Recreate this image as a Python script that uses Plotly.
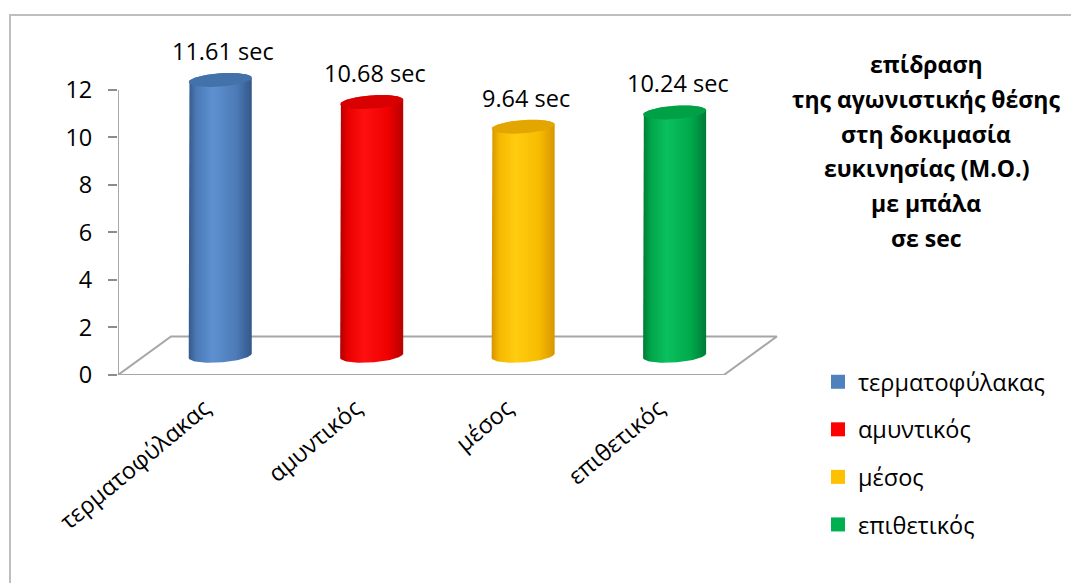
import numpy as np
import plotly.graph_objects as go

# ---- data -------------------------------------------------------------
positions = ["τερματοφύλακας", "αμυντικός", "μέσος", "επιθετικός"]
mean_times = [11.61, 10.68, 9.64, 10.24]
value_labels = ["11.61 sec", "10.68 sec", "9.64 sec", "10.24 sec"]
y_ticks = [0, 2, 4, 6, 8, 10, 12]
title_lines = [
    "επίδραση",
    "της αγωνιστικής θέσης",
    "στη δοκιμασία",
    "ευκινησίας (Μ.Ο.)",
    "με μπάλα",
    "σε sec",
]

# ---- styling ------------------------------------------------------------
FONT = "Open Sans"
TEXT_SIZE = 23.5
base_colors = ["#4F81BD", "#FF0000", "#FFC000", "#00B050"]
# side shading of each cylinder: dark edge -> highlight -> dark edge
body_scales = [
    [[0, "#36598A"], [0.12, "#4A79B5"], [0.38, "#5E90D0"], [0.75, "#4C7CB8"], [1, "#34578A"]],
    [[0, "#B00000"], [0.12, "#E80000"], [0.38, "#FF1010"], [0.75, "#F00000"], [1, "#B80000"]],
    [[0, "#D69400"], [0.12, "#F5B800"], [0.38, "#FFCC10"], [0.75, "#F7BC00"], [1, "#D89600"]],
    [[0, "#007A36"], [0.12, "#00A64A"], [0.38, "#0BC05E"], [0.75, "#00AA4C"], [1, "#007C38"]],
]
cap_colors = ["#4371AA", "#D80000", "#E3A600", "#00A047"]
AXIS_GREY = "#8C8C8C"
FLOOR_GREY = "#A6A6A6"

# figure geometry (pixels)
FIG_W, FIG_H = 1071, 583
M_L, M_R, M_T, M_B = 118, 279, 59, 208
PLOT_W = FIG_W - M_L - M_R
PLOT_H = FIG_H - M_T - M_B
X_RANGE = [0, 4.45]
Y_RANGE = [0, 13.3]

# pseudo-3D depth of the floor and cylinder shape (data units)
DEPTH_X, DEPTH_Y = 0.35, 1.62
RX, RY, TILT = 0.208, 0.28, 0.45


def paper_x(px):
    return (px - M_L) / PLOT_W


def paper_y(py):
    return (FIG_H - M_B - py) / PLOT_H


def cylinder(xc, base, top, n=60):
    """Outline of the visible body and the top cap of a cylinder."""
    t_up = np.linspace(np.pi, 0, n)
    t_dn = np.linspace(0, -np.pi, n)
    bx = np.concatenate([
        [xc - RX, xc - RX],
        xc + RX * np.cos(t_up),
        [xc + RX, xc + RX],
        xc + RX * np.cos(t_dn),
    ])
    by = np.concatenate([
        [base - TILT * RX, top - TILT * RX],
        top + TILT * RX * np.cos(t_up) + RY * np.sin(t_up),
        [top + TILT * RX, base + TILT * RX],
        base + TILT * RX * np.cos(t_dn) + RY * np.sin(t_dn),
    ])
    t = np.linspace(0, 2 * np.pi, 2 * n)
    cx = xc + RX * np.cos(t)
    cy = top + TILT * RX * np.cos(t) + RY * np.sin(t)
    return bx, by, cx, cy


fig = go.Figure()

# floor of the 3-D plot area
n_cat = len(positions)
fig.add_trace(go.Scatter(
    x=[0, n_cat, n_cat + DEPTH_X, DEPTH_X, 0],
    y=[0, 0, DEPTH_Y, DEPTH_Y, 0],
    mode="lines", line=dict(color=FLOOR_GREY, width=2),
    hoverinfo="skip", showlegend=False,
))

bar_centers = [i + 0.5 + DEPTH_X / 2 for i in range(n_cat)]
label_positions = [i + 0.57 for i in range(n_cat)]
base_level = DEPTH_Y / 2

for i, (name, val) in enumerate(zip(positions, mean_times)):
    xc = bar_centers[i]
    bx, by, cx, cy = cylinder(xc, base_level, val + base_level)
    fig.add_trace(go.Scatter(
        x=bx, y=by, fill="toself", mode="lines", line=dict(width=0),
        fillgradient=dict(type="horizontal", colorscale=body_scales[i],
                          start=xc - RX, stop=xc + RX),
        hoverinfo="skip", showlegend=False,
    ))
    fig.add_trace(go.Scatter(
        x=cx, y=cy, fill="toself", mode="lines", line=dict(width=0),
        fillcolor=cap_colors[i], hoverinfo="skip", showlegend=False,
    ))
    fig.add_annotation(
        x=xc, y=val + base_level, text=value_labels[i], showarrow=False,
        yanchor="middle", yshift=29, xshift=3,
        font=dict(family=FONT, size=TEXT_SIZE, color="#000000"),
    )

# legend entries
for name, col in zip(positions, base_colors):
    fig.add_trace(go.Scatter(
        x=[None], y=[None], mode="markers", name=name, legendgroup=name,
        marker=dict(symbol="square", size=14, color=col),
    ))

# y axis line and x-axis tick marks between categories
fig.add_shape(type="line", xref="x", yref="y", x0=0, x1=0, y0=0, y1=max(y_ticks),
              line=dict(color=AXIS_GREY, width=1.5))
for k in range(n_cat + 1):
    fig.add_shape(type="line", xref="x", yref="y", ysizemode="pixel", yanchor=0,
                  x0=k, x1=k, y0=0, y1=-10, line=dict(color=AXIS_GREY, width=1.5))

# chart-area frame
fig.add_shape(type="rect", xref="paper", yref="paper",
              x0=paper_x(10), x1=paper_x(1090), y0=paper_y(600), y1=paper_y(15),
              line=dict(color="#BEBEBE", width=2), fillcolor="rgba(0,0,0,0)", layer="below")

# multi-line bold title at the right
for j, line in enumerate(title_lines):
    fig.add_annotation(
        xref="paper", yref="paper", x=paper_x(926), y=paper_y(64 + 34.8 * j),
        text=f"<b>{line}</b>", showarrow=False, xanchor="center", yanchor="middle",
        font=dict(family=FONT, size=23, color="#000000"),
    )

fig.update_layout(
    template="none",
    width=FIG_W, height=FIG_H,
    margin=dict(l=M_L, r=M_R, t=M_T, b=M_B, pad=0, autoexpand=False),
    paper_bgcolor="#FFFFFF", plot_bgcolor="rgba(0,0,0,0)",
    font=dict(family=FONT, size=TEXT_SIZE, color="#000000"),
    showlegend=True,
    legend=dict(
        x=paper_x(818), y=paper_y(360), xanchor="left", yanchor="top",
        font=dict(family=FONT, size=TEXT_SIZE, color="#000000"),
        tracegroupgap=14, bgcolor="rgba(0,0,0,0)", itemclick=False,
    ),
    xaxis=dict(
        range=X_RANGE, showgrid=False, zeroline=False, showline=False,
        tickmode="array", tickvals=label_positions, ticktext=positions,
        tickangle=-40, ticks="", ticklabelstandoff=14, automargin=False,
        tickfont=dict(family=FONT, size=TEXT_SIZE, color="#000000"),
    ),
    yaxis=dict(
        range=Y_RANGE, showgrid=False, zeroline=False, showline=False,
        tickmode="array", tickvals=y_ticks, ticks="outside", ticklen=9,
        tickcolor=AXIS_GREY, tickwidth=1.5, ticklabelstandoff=11, automargin=False,
        tickfont=dict(family=FONT, size=TEXT_SIZE, color="#000000"),
    ),
)

fig.write_html("out.html")
